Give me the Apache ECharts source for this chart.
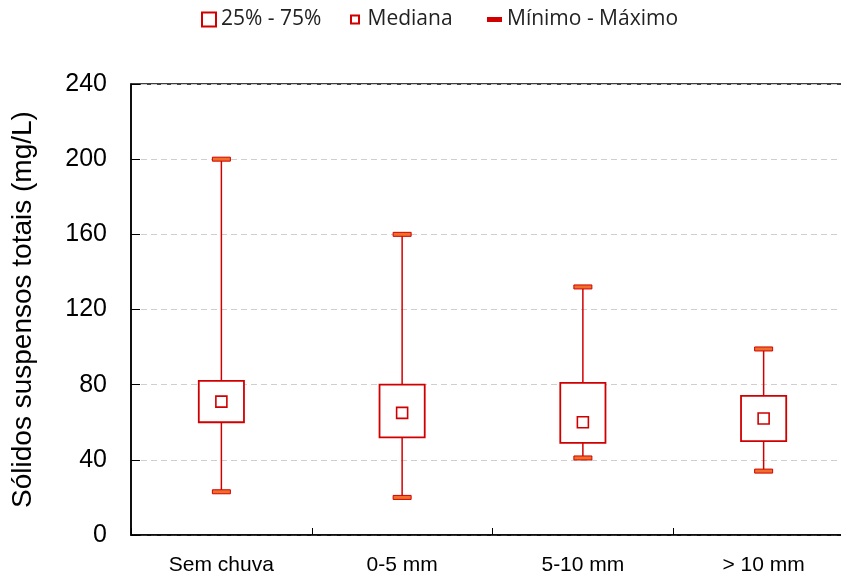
<!DOCTYPE html>
<html>
<head>
<meta charset="utf-8">
<script src="https://cdn.jsdelivr.net/npm/echarts@6/dist/echarts.min.js"></script>
<style>
  html, body { margin: 0; padding: 0; background: #fff; }
  #chart { width: 841px; height: 580px; }
</style>
</head>
<body>
<div id="chart"></div>
<script>
// Sólidos suspensos totais por classe de chuva (mg/L)
const categories = ['Sem chuva', '0-5 mm', '5-10 mm', '> 10 mm'];
const minimo  = [23, 20, 41, 34];
const q1      = [60, 52, 49, 50];
const mediana = [71, 65, 60, 62];
const q3      = [82, 80, 81, 74];
const maximo  = [200, 160, 132, 99];
const yTicks  = [0, 40, 80, 120, 160, 200, 240];

const RED = '#d00000';
const CAP = '#f0702a';
const AXIS_FONT = '"Liberation Sans", Arial, sans-serif';
const LEGEND_FONT = '"Open Sans", "Noto Sans", sans-serif';

const boxData = categories.map((c, i) => [i, q1[i], q3[i]]);
const medData = categories.map((c, i) => [i, mediana[i]]);
const rangeData = categories.map((c, i) => [i, minimo[i], q1[i], q3[i], maximo[i]]);

const chart = echarts.init(document.getElementById('chart'), null, { renderer: 'canvas' });

const legendText = { fontFamily: LEGEND_FONT, fontSize: 21, color: '#222' };

chart.setOption({
  animation: false,
  legend: [
    {
      data: [{ name: '25% - 75%', icon: 'rect',
               itemStyle: { color: '#fff', borderColor: RED, borderWidth: 2 } }],
      left: 196, top: 4, itemWidth: 14, itemHeight: 14,
      textStyle: legendText, selectedMode: false
    },
    {
      data: [{ name: 'Mediana', icon: 'path://M0,0h10v10h-10z',
               itemStyle: { color: '#fff', borderColor: RED, borderWidth: 2 } }],
      left: 345, top: 4, itemWidth: 15, itemHeight: 8,
      textStyle: legendText, selectedMode: false
    },
    {
      data: [{ name: 'Mínimo - Máximo', icon: 'rect',
               itemStyle: { color: RED, borderWidth: 0 } }],
      left: 482, top: 4, itemWidth: 15, itemHeight: 5,
      textStyle: legendText, selectedMode: false
    }
  ],
  grid: {
    left: 131, top: 84, right: -13, bottom: 45,
    outerBoundsMode: 'none',
    containLabel: false,
    show: true, borderColor: '#000', borderWidth: 1.5, backgroundColor: 'transparent'
  },
  xAxis: {
    type: 'category',
    data: categories,
    boundaryGap: true,
    axisLine: { lineStyle: { color: '#000', width: 1.5 } },
    axisTick: { show: true, inside: true, length: 7, lineStyle: { color: '#000', width: 1 } },
    axisLabel: { margin: 20, fontFamily: AXIS_FONT, fontSize: 21, color: '#000' },
    splitLine: { show: false }
  },
  yAxis: {
    type: 'value',
    min: yTicks[0], max: yTicks[yTicks.length - 1], interval: 40,
    name: 'Sólidos suspensos totais (mg/L)',
    nameLocation: 'middle',
    nameGap: 94,
    nameTextStyle: { fontFamily: AXIS_FONT, fontSize: 28, color: '#000' },
    axisLine: { show: true, lineStyle: { color: '#000', width: 1.5 } },
    axisTick: { show: true, inside: true, length: 9, lineStyle: { color: '#000', width: 1 } },
    axisLabel: { margin: 24, fontFamily: AXIS_FONT, fontSize: 25, color: '#000' },
    splitLine: { show: true, lineStyle: { color: '#cfcfcf', type: [6, 4], width: 1 } }
  },
  series: [
    {
      // whiskers and min/max caps
      name: 'Mínimo - Máximo',
      type: 'custom',
      z: 2,
      itemStyle: { color: RED },
      data: rangeData,
      encode: { x: 0, y: [1, 2, 3, 4] },
      renderItem: function (params, api) {
        const i = api.value(0);
        const pMin = api.coord([i, api.value(1)]);
        const pQ1 = api.coord([i, api.value(2)]);
        const pQ3 = api.coord([i, api.value(3)]);
        const pMax = api.coord([i, api.value(4)]);
        const capW = 18, capH = 4;
        const lineStyle = { stroke: RED, lineWidth: 1.5, fill: null };
        const capStyle = { fill: CAP, stroke: RED, lineWidth: 1 };
        return {
          type: 'group',
          children: [
            { type: 'line', shape: { x1: pMax[0], y1: pMax[1], x2: pQ3[0], y2: pQ3[1] }, style: lineStyle },
            { type: 'line', shape: { x1: pQ1[0], y1: pQ1[1], x2: pMin[0], y2: pMin[1] }, style: lineStyle },
            { type: 'rect', shape: { x: pMax[0] - capW / 2, y: pMax[1] - capH / 2, width: capW, height: capH }, style: capStyle },
            { type: 'rect', shape: { x: pMin[0] - capW / 2, y: pMin[1] - capH / 2, width: capW, height: capH }, style: capStyle }
          ]
        };
      }
    },
    {
      // interquartile boxes
      name: '25% - 75%',
      type: 'custom',
      z: 3,
      itemStyle: { color: '#fff', borderColor: RED },
      data: boxData,
      encode: { x: 0, y: [1, 2] },
      renderItem: function (params, api) {
        const i = api.value(0);
        const lo = api.coord([i, api.value(1)]);
        const hi = api.coord([i, api.value(2)]);
        const w = api.size([1, 0])[0] * 0.25;
        return {
          type: 'rect',
          shape: { x: lo[0] - w / 2, y: hi[1], width: w, height: lo[1] - hi[1] },
          style: { fill: '#fff', stroke: RED, lineWidth: 1.8 }
        };
      }
    },
    {
      // medians
      name: 'Mediana',
      type: 'custom',
      z: 4,
      itemStyle: { color: '#fff', borderColor: RED },
      data: medData,
      encode: { x: 0, y: 1 },
      renderItem: function (params, api) {
        const p = api.coord([api.value(0), api.value(1)]);
        const s = 11;
        return {
          type: 'rect',
          shape: { x: p[0] - s / 2, y: p[1] - s / 2, width: s, height: s },
          style: { fill: '#fff', stroke: RED, lineWidth: 1.6 }
        };
      }
    }
  ]
});
</script>
</body>
</html>
